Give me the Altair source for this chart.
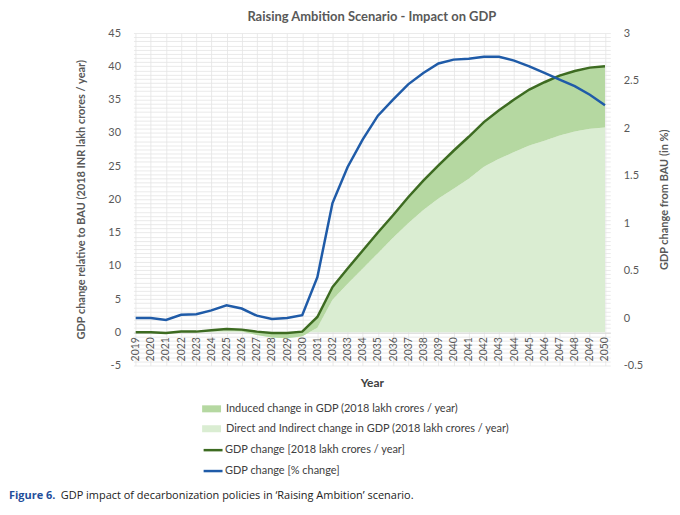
import numpy as np
import pandas as pd
import altair as alt

years = list(range(2019, 2051))

# GDP change, 2018 INR lakh crores / year (dark green line)
gdp_abs = [0.0, 0.0, -0.1, 0.1, 0.1, 0.3, 0.5, 0.4, 0.1, -0.1, -0.1, 0.1,
           2.3, 6.8, 9.6, 12.3, 15.0, 17.6, 20.3, 22.8, 25.1, 27.3, 29.4,
           31.6, 33.4, 35.0, 36.5, 37.6, 38.6, 39.3, 39.8, 40.0]

# direct and indirect part (light green area)
direct = [0.0, 0.0, -0.1, 0.1, 0.1, 0.2, 0.3, 0.1, -0.4, -0.8, -0.9, -0.6,
          0.7, 4.9, 7.3, 9.6, 11.9, 14.2, 16.4, 18.4, 20.1, 21.6, 23.1,
          24.9, 26.1, 27.1, 28.1, 28.8, 29.6, 30.2, 30.6, 30.8]

# GDP change in % from BAU (blue line, right axis)
gdp_pct = [0.0, 0.0, -0.02, 0.035, 0.04, 0.08, 0.135, 0.10, 0.025, -0.01, 0.0, 0.03,
           0.43, 1.21, 1.59, 1.88, 2.13, 2.30, 2.46, 2.58, 2.68, 2.72, 2.73,
           2.75, 2.75, 2.71, 2.65, 2.58, 2.51, 2.44, 2.35, 2.24]

lab_ind = "Induced change in GDP (2018 lakh crores / year)"
lab_dir = "Direct and Indirect change in GDP (2018 lakh crores / year)"
lab_abs = "GDP change [2018 lakh crores / year]"
lab_pct = "GDP change [% change]"

C_IND = "#b5d8a1"
C_DIR = "#daedd2"
C_ABS = "#3d6b21"
C_PCT = "#1f5ba8"
GREY = "#595959"
FONT = "Lato"

area_df = pd.concat([
    pd.DataFrame({"year": years, "hi": direct, "lo": [0.0] * len(years), "series": lab_dir}),
    pd.DataFrame({"year": years, "hi": gdp_abs, "lo": direct, "series": lab_ind}),
])
abs_df = pd.DataFrame({"year": years, "val": gdp_abs, "series": lab_abs})
pct_df = pd.DataFrame({"year": years, "pct": gdp_pct, "series": lab_pct})

x_grid = [2018.75 + 0.25 * k for k in range(128)]
y_grid = [-5 + 0.625 * k for k in range(81)]

x_enc = alt.X(
    "year:Q",
    scale=alt.Scale(domain=[2018.85, 2050.35], nice=False, zero=False),
    axis=alt.Axis(
        values=x_grid, format="d",
        labelExpr="datum.value % 1 === 0 ? datum.label : ''",
        labelAngle=270, labelOverlap=False, labelFlush=False, labelPadding=4,
        labelFont=FONT, labelFontSize=10.5, labelColor=GREY,
        ticks=False, domain=True, domainColor="#d9d9d9",
        grid=True, gridColor="#e4e4e4", gridWidth=0.8,
        offset=-33, title="Year", titleFont=FONT, titleFontSize=12,
        titleColor="#404040", titleFontWeight="bold", titlePadding=17,
    ),
)

left_axis = alt.Axis(
    values=y_grid,
    labelExpr="datum.value % 5 === 0 ? '' + datum.value : ''",
    labelFont=FONT, labelFontSize=11, labelColor=GREY, labelPadding=13,
    ticks=False, domain=False, grid=True, gridColor="#e4e4e4", gridWidth=0.8,
    title="GDP change relative to BAU (2018 INR lakh crores / year)",
    titleFont=FONT, titleFontSize=11, titleColor=GREY, titleFontWeight="bold",
    titlePadding=21,
)
left_scale = alt.Scale(domain=[-5, 45], nice=False, zero=False)

areas = alt.Chart(area_df).mark_area(opacity=1).encode(
    x=x_enc,
    y=alt.Y("hi:Q", scale=left_scale, axis=left_axis),
    y2="lo:Q",
    color=alt.Color(
        "series:N",
        scale=alt.Scale(domain=[lab_ind, lab_dir], range=[C_IND, C_DIR]),
        legend=alt.Legend(
            orient="none", legendX=69, legendY=368, title=None, padding=0,
            symbolType="M-1,-0.37H1V0.37H-1Z", symbolSize=361, symbolStrokeWidth=0,
            symbolOpacity=1, labelFont=FONT, labelFontSize=11, labelColor="#404040",
            rowPadding=5, labelOffset=5, labelLimit=400,
        ),
    ),
)

stroke_enc = alt.Stroke(
    "series:N",
    scale=alt.Scale(domain=[lab_abs, lab_pct], range=[C_ABS, C_PCT]),
    legend=alt.Legend(
        orient="none", legendX=69, legendY=408, title=None, padding=0,
        symbolType="stroke", symbolSize=361, symbolStrokeWidth=2.5,
        labelFont=FONT, labelFontSize=11, labelColor="#404040",
        rowPadding=5, labelOffset=1, labelLimit=400,
    ),
)

abs_line = alt.Chart(abs_df).mark_line(strokeWidth=2.5).encode(
    x=x_enc,
    y=alt.Y("val:Q", scale=left_scale, axis=left_axis),
    stroke=stroke_enc,
)

pct_line = alt.Chart(pct_df).mark_line(strokeWidth=2.5).encode(
    x=x_enc,
    y=alt.Y(
        "pct:Q",
        scale=alt.Scale(domain=[-0.5, 3], nice=False, zero=False),
        axis=alt.Axis(
            orient="right", values=[-0.5, 0, 0.5, 1, 1.5, 2, 2.5, 3],
            labelExpr="'' + datum.value",
            labelFont=FONT, labelFontSize=11, labelColor=GREY, labelPadding=13,
            ticks=False, domain=False, grid=False,
            title="GDP change from BAU (in %)", titleFont=FONT, titleFontSize=11,
            titleColor=GREY, titleFontWeight="bold", titlePadding=27, titleAngle=270,
        ),
    ),
    stroke=stroke_enc,
)

cap_bold = alt.Chart(pd.DataFrame({"t": ["Figure 6."]})).mark_text(
    align="left", baseline="middle", font="Open Sans", fontSize=11,
    fontWeight="bold", color="#1f4e9b",
).encode(x=alt.value(-125), y=alt.value(465), text="t:N")

cap_rest = alt.Chart(pd.DataFrame({"t": ["GDP impact of decarbonization policies in \u2018Raising Ambition\u2019 scenario."]})).mark_text(
    align="left", baseline="middle", font="Open Sans", fontSize=11, color="#222222",
).encode(x=alt.value(-73), y=alt.value(465), text="t:N")

chart = alt.layer(
    alt.layer(areas, abs_line),
    pct_line,
).resolve_scale(y="independent")

chart = alt.layer(chart, cap_bold, cap_rest).properties(
    width=479,
    height=334,
    autosize=alt.AutoSizeParams(type="none"),
    padding={"left": 126, "top": 24, "right": 62, "bottom": 149},
    title=alt.Title(
        "Raising Ambition Scenario - Impact on GDP", font=FONT, fontSize=13,
        fontWeight="bold", color=GREY, anchor="middle", offset=3,
    ),
).configure_view(stroke=None)

chart.save("out.html", embed_options={"renderer": "svg", "actions": False})
